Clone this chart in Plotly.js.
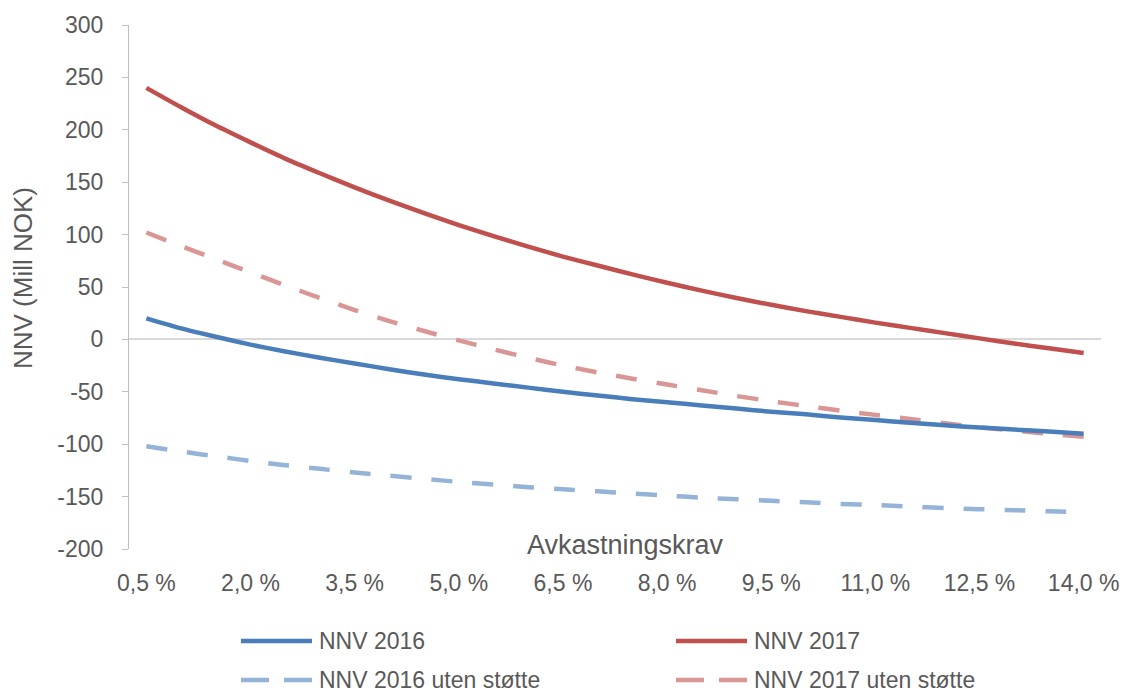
<!DOCTYPE html>
<html>
<head>
<meta charset="utf-8">
<script src="https://cdn.plot.ly/plotly-3.0.1.min.js"></script>
<style>
  html, body { margin: 0; padding: 0; background: #ffffff; }
  #chart { width: 1122px; height: 693px; }
</style>
</head>
<body>
<div id="chart"></div>
<script>
// Required rate of return (x categories)
const avkastningskrav = [
  '0,5 %', '1,0 %', '1,5 %', '2,0 %', '2,5 %', '3,0 %', '3,5 %',
  '4,0 %', '4,5 %', '5,0 %', '5,5 %', '6,0 %', '6,5 %', '7,0 %',
  '7,5 %', '8,0 %', '8,5 %', '9,0 %', '9,5 %', '10,0 %', '10,5 %',
  '11,0 %', '11,5 %', '12,0 %', '12,5 %', '13,0 %', '13,5 %', '14,0 %'
];

// Net present value, million NOK
const nnv2016 = [
  20, 10.5, 2.5, -5, -11.5, -17.5, -23, -28.5, -33.5, -38, -42, -46, -50, -53.5,
  -57, -60, -63, -66, -69, -71.5, -74.5, -77, -79.5, -82, -84, -86, -88, -90
];
const nnv2017 = [
  240, 221.5, 204, 188, 172.5, 158.5, 145, 132.5, 120.5, 109, 98.5, 88.5, 79, 70.5,
  62, 54, 46.5, 39.5, 33, 27, 21.5, 16, 11, 6, 1, -4, -8.5, -13
];
const nnv2016UtenStotte = [
  -102, -107, -111.5, -116, -120, -123.5, -127, -130, -133, -136, -138.5, -141, -143, -145,
  -147, -149, -151, -152.5, -154, -155.5, -157, -158, -159.5, -161, -162, -163, -164, -165
];
const nnv2017UtenStotte = [
  102, 89, 76.5, 64, 51.5, 39.5, 28, 17.5, 8, -1, -9.5, -17.5, -25, -31.5,
  -37.5, -43, -48.5, -54, -59, -63.5, -68, -72, -76, -80, -84, -87, -90, -93
];

// Axis ticks
const xTickLabels = ['0,5 %', '2,0 %', '3,5 %', '5,0 %', '6,5 %', '8,0 %', '9,5 %', '11,0 %', '12,5 %', '14,0 %'];
const yTickValues = [-200, -150, -100, -50, 0, 50, 100, 150, 200, 250, 300];
const yTickLabels = ['-200', '-150', '-100', '-50', '0', '50', '100', '150', '200', '250', '300'];

const seriesNames = ['NNV 2016', 'NNV 2017', 'NNV 2016 uten støtte', 'NNV 2017 uten støtte'];

// Styling
const FONT = 'Liberation Sans, Arial, sans-serif';
const TEXT = '#595959';
const W = 1122, H = 693;
const M = { l: 129, r: 21, t: 25, b: 144 };
const plotW = W - M.l - M.r;
const plotH = H - M.t - M.b;
const px2x = p => (p - M.l) / plotW;
const px2y = p => (H - M.b - p) / plotH;

const styles = [
  { color: '#4a7ebb', dash: 'solid' },
  { color: '#c0504d', dash: 'solid' },
  { color: '#95b3d7', dash: '21px,20px' },
  { color: '#d99694', dash: '21px,20px' }
];
const seriesData = [nnv2016, nnv2017, nnv2016UtenStotte, nnv2017UtenStotte];

// Draw dashed series first so the solid ones sit on top
const drawOrder = [2, 3, 0, 1];
const traces = drawOrder.map(i => ({
  type: 'scatter',
  mode: 'lines',
  name: seriesNames[i],
  x: avkastningskrav,
  y: seriesData[i],
  line: { color: styles[i].color, width: 4.5, dash: styles[i].dash, shape: 'spline', smoothing: 0.6 },
  showlegend: false,
  hoverinfo: 'x+y+name'
}));

// Hand-built legend: two columns, two rows
const legendCols = [241, 676];
const legendRows = [641, 680];
const legendLineLen = 71;
const shapes = [];
const annotations = [];
seriesNames.forEach((name, i) => {
  const col = legendCols[i % 2];
  const row = legendRows[Math.floor(i / 2)];
  shapes.push({
    type: 'line', xref: 'paper', yref: 'paper',
    x0: px2x(col), x1: px2x(col + legendLineLen),
    y0: px2y(row), y1: px2y(row),
    line: { color: styles[i].color, width: 4.5, dash: styles[i].dash === 'solid' ? 'solid' : '28px,15px' }
  });
  annotations.push({
    xref: 'paper', yref: 'paper',
    x: px2x(col + legendLineLen + 5), y: px2y(row),
    xanchor: 'left', yanchor: 'middle',
    text: name, showarrow: false,
    font: { family: FONT, size: 23, color: TEXT }
  });
});

// Axis titles
annotations.push({
  xref: 'paper', yref: 'paper',
  x: px2x(625), y: px2y(545),
  xanchor: 'center', yanchor: 'middle',
  text: 'Avkastningskrav', showarrow: false,
  font: { family: FONT, size: 27, color: TEXT }
});
annotations.push({
  xref: 'paper', yref: 'paper',
  x: px2x(23), y: px2y(278),
  xanchor: 'center', yanchor: 'middle', textangle: -90,
  text: 'NNV (Mill NOK)', showarrow: false,
  font: { family: FONT, size: 26, color: TEXT }
});

const layout = {
  width: W, height: H,
  margin: M,
  paper_bgcolor: '#ffffff',
  plot_bgcolor: '#ffffff',
  font: { family: FONT, color: TEXT },
  showlegend: false,
  xaxis: {
    type: 'category',
    categoryorder: 'array',
    categoryarray: avkastningskrav,
    range: [-0.5, avkastningskrav.length - 0.5],
    tickmode: 'array',
    tickvals: xTickLabels,
    ticktext: xTickLabels,
    ticks: '',
    ticklabelstandoff: 18,
    tickfont: { family: FONT, size: 23, color: TEXT },
    showline: false,
    showgrid: false,
    zeroline: false,
    fixedrange: true
  },
  yaxis: {
    range: [-200, 300],
    tickmode: 'array',
    tickvals: yTickValues,
    ticktext: yTickLabels,
    ticks: 'outside',
    ticklen: 6,
    tickwidth: 1,
    tickcolor: '#bfbfbf',
    ticklabelstandoff: 14,
    tickfont: { family: FONT, size: 23, color: TEXT },
    showline: true,
    linecolor: '#bfbfbf',
    linewidth: 1,
    showgrid: false,
    zeroline: true,
    zerolinecolor: '#d9d9d9',
    zerolinewidth: 1.5,
    fixedrange: true
  },
  shapes: shapes,
  annotations: annotations
};

Plotly.newPlot('chart', traces, layout, { displayModeBar: false, responsive: false });
</script>
</body>
</html>
